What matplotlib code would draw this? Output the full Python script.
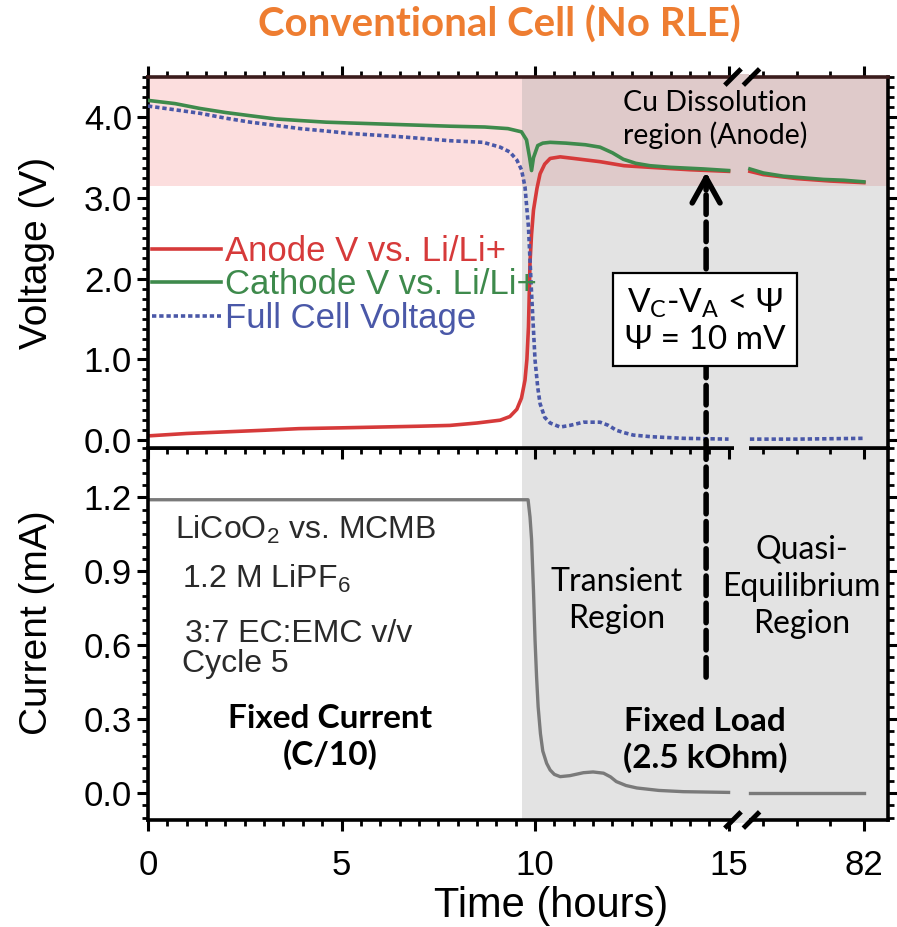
import numpy as np
import matplotlib
matplotlib.use("Agg")
import matplotlib.pyplot as plt
from matplotlib.lines import Line2D
from matplotlib.patches import ConnectionPatch, Polygon
from matplotlib.ticker import FixedLocator, MultipleLocator, FormatStrFormatter

# ---- values (time in hours, V and mA) ----
anode_t = [0, 1, 2, 3, 3.9, 5, 6, 7, 7.8, 8.5, 9.1, 9.35, 9.53, 9.65, 9.74, 9.79,
           9.83, 9.87, 9.91, 9.96, 10.05, 10.13, 10.25, 10.39, 10.65, 11.0, 11.68,
           12.3, 12.97, 14.0, 15.0]
anode_v = [0.05, 0.08, 0.10, 0.12, 0.14, 0.15, 0.16, 0.17, 0.18, 0.21, 0.245, 0.29,
           0.38, 0.52, 0.74, 1.0, 1.40, 2.2, 2.55, 2.85, 3.12, 3.30, 3.42, 3.49,
           3.51, 3.49, 3.45, 3.40, 3.38, 3.35, 3.33]
anode_late_t = [78.6, 79.0, 80.0, 81.0, 82.0]
anode_late_v = [3.33, 3.29, 3.24, 3.21, 3.19]

cathode_t = [0, 0.7, 1.34, 2.0, 2.64, 3.3, 3.93, 4.6, 5.22, 6.5, 7.8, 8.7, 9.3,
             9.65, 9.78, 9.86, 9.91, 9.96, 10.07, 10.2, 10.39, 10.8, 11.3, 11.68,
             12.0, 12.28, 12.6, 12.97, 13.5, 14.35, 15.0]
cathode_v = [4.21, 4.17, 4.11, 4.06, 4.02, 3.98, 3.96, 3.94, 3.93, 3.91, 3.89, 3.88,
             3.86, 3.82, 3.72, 3.50, 3.34, 3.50, 3.65, 3.68, 3.69, 3.68, 3.66, 3.63,
             3.56, 3.48, 3.43, 3.40, 3.38, 3.36, 3.34]
cathode_late_t = [78.6, 79.0, 79.6, 80.2, 80.8, 81.4, 82.0]
cathode_late_v = [3.36, 3.31, 3.27, 3.25, 3.23, 3.22, 3.20]

cell_t = [0, 0.6, 1.34, 2.0, 2.64, 3.3, 3.93, 4.6, 5.22, 6.5, 7.8, 8.66, 9.1, 9.35,
          9.53, 9.65, 9.74, 9.83, 9.91, 10.0, 10.07, 10.13, 10.25, 10.39, 10.65,
          10.9, 11.25, 11.68, 11.9, 12.1, 12.3, 12.54, 13.0, 13.83, 15.0]
cell_v = [4.14, 4.10, 4.05, 3.99, 3.94, 3.90, 3.86, 3.83, 3.80, 3.76, 3.71, 3.69,
          3.63, 3.57, 3.47, 3.35, 3.14, 2.64, 1.82, 0.99, 0.65, 0.45, 0.28, 0.21,
          0.16, 0.18, 0.22, 0.22, 0.18, 0.12, 0.09, 0.06, 0.04, 0.02, 0.01]
cell_late_t = [78.6, 80.0, 82.0]
cell_late_v = [0.01, 0.01, 0.02]

current_t = [0, 9.82, 9.87, 9.91, 9.96, 10.0, 10.04, 10.08, 10.14, 10.2, 10.3, 10.39,
             10.5, 10.65, 10.9, 11.25, 11.5, 11.77, 11.95, 12.1, 12.35, 12.63, 13.2,
             13.83, 15.0]
current_i = [1.19, 1.19, 1.12, 1.03, 0.82, 0.62, 0.47, 0.35, 0.24, 0.17, 0.12, 0.093,
             0.075, 0.066, 0.07, 0.082, 0.085, 0.08, 0.065, 0.046, 0.03, 0.02, 0.01,
             0.005, 0.002]
current_late_t = [78.6, 82.0]
current_late_i = [0.0, 0.0]

legend_labels = ["Anode V vs. Li/Li+", "Cathode V vs. Li/Li+", "Full Cell Voltage"]
x_major = [0, 5, 10, 15, 82]
x_minor_late = [79, 80, 81]

TRANSIENT_START = 9.66   # start of the fixed-load (grey) region
CU_LIMIT = 3.15          # lower edge of the Cu dissolution band
ARROW_T = 14.42

# broken time axis: 0-15 h linear, then a short jump to the last hours
BREAK_LO, BREAK_HI = 15.0, 78.5
GAP = 0.465
LATE_SCALE = 0.866
X_END = 82.72


def fwd(t):
    t = np.asarray(t, dtype=float)
    mid = BREAK_LO + (t - BREAK_LO) * GAP / (BREAK_HI - BREAK_LO)
    late = BREAK_LO + GAP + (t - BREAK_HI) * LATE_SCALE
    return np.where(t <= BREAK_LO, t, np.where(t < BREAK_HI, mid, late))


def inv(u):
    u = np.asarray(u, dtype=float)
    mid = BREAK_LO + (u - BREAK_LO) * (BREAK_HI - BREAK_LO) / GAP
    late = BREAK_HI + (u - BREAK_LO - GAP) / LATE_SCALE
    return np.where(u <= BREAK_LO, u, np.where(u < BREAK_LO + GAP, mid, late))


RED, GREEN, BLUE = "#d63a3a", "#3e8a4c", "#4a58a8"
CURRENT_GREY = "#7a7a7a"
PINK, PINK_GREY, SHADE = "#fcdede", "#dfcaca", "#e3e3e3"
ORANGE = "#ee7d31"
CAL = ["Lato", "DejaVu Sans"]

plt.rcParams["font.family"] = ["Liberation Sans", "DejaVu Sans"]
plt.rcParams["mathtext.fontset"] = "custom"
plt.rcParams["mathtext.rm"] = "Liberation Sans"

fig = plt.figure(figsize=(8.97, 9.27), dpi=100)
W, H = 897.0, 927.0
ax_top = fig.add_axes([148 / W, 1 - 448 / H, 740 / W, 371 / H])
ax_bot = fig.add_axes([148 / W, 1 - 820 / H, 740 / W, 372 / H], sharex=ax_top)
ax_top.set_zorder(3)
ax_top.set_xscale("function", functions=(fwd, inv))
ax_top.set_xlim(0, X_END)
ax_top.set_ylim(-0.1, 4.5)
ax_bot.set_ylim(-0.11, 1.4)

# ---- background regions ----
for ax in (ax_top, ax_bot):
    ax.axvspan(TRANSIENT_START, X_END, color=SHADE, lw=0, zorder=0)
ax_top.fill_between([0, TRANSIENT_START], CU_LIMIT, 4.5, color=PINK, lw=0, zorder=0.5)
ax_top.fill_between([TRANSIENT_START, X_END], CU_LIMIT, 4.5, color=PINK_GREY, lw=0, zorder=0.5)

# ---- curves ----
for t, v in ((anode_t, anode_v), (anode_late_t, anode_late_v)):
    ax_top.plot(t, v, color=RED, lw=2.6, zorder=2)
for t, v in ((cathode_t, cathode_v), (cathode_late_t, cathode_late_v)):
    ax_top.plot(t, v, color=GREEN, lw=2.6, zorder=3)
for t, v in ((cell_t, cell_v), (cell_late_t, cell_late_v)):
    ax_top.plot(t, v, color=BLUE, lw=2.6, ls=(0, (1.2, 0.8)), zorder=4)
for t, i in ((current_t, current_i), (current_late_t, current_late_i)):
    ax_bot.plot(t, i, color=CURRENT_GREY, lw=2.4, zorder=2)

handles = [Line2D([], [], color=RED, lw=2.6),
           Line2D([], [], color=GREEN, lw=2.6),
           Line2D([], [], color=BLUE, lw=2.6, ls=(0, (1.2, 0.8)))]
ax_top.legend(handles, legend_labels, loc="upper left", bbox_to_anchor=(0.005, 0.575),
              frameon=False, fontsize=25, handlelength=2.0, handletextpad=0.1,
              labelspacing=0.02, borderpad=0, borderaxespad=0, labelcolor="linecolor")

# ---- axes styling ----
minor_x = [m for m in np.arange(0.5, 15, 0.5) if m % 5 != 0] + x_minor_late
for ax in (ax_top, ax_bot):
    ax.xaxis.set_major_locator(FixedLocator(x_major))
    ax.xaxis.set_minor_locator(FixedLocator(minor_x))
    ax.xaxis.set_major_formatter(FormatStrFormatter("%d"))
    ax.yaxis.set_major_formatter(FormatStrFormatter("%.1f"))
    ax.tick_params(which="major", length=8, width=2.2, labelsize=25)
    ax.tick_params(which="minor", length=4, width=2)
    ax.tick_params(axis="y", which="both", left=True, right=True, direction="out")
    for s in ax.spines.values():
        s.set_linewidth(2.6)
ax_top.spines["top"].set_color("#3b1c1c")
ax_top.yaxis.set_major_locator(MultipleLocator(1.0))
ax_top.yaxis.set_minor_locator(MultipleLocator(0.125))
ax_bot.yaxis.set_major_locator(MultipleLocator(0.3))
ax_bot.yaxis.set_minor_locator(MultipleLocator(0.05))
ax_top.tick_params(axis="x", which="both", top=True, bottom=True, labelbottom=False,
                   direction="out")
ax_bot.tick_params(axis="x", which="both", top=False, bottom=True, direction="out", pad=13)

ax_top.set_ylabel("Voltage (V)", fontsize=28)
ax_bot.set_ylabel("Current (mA)", fontsize=28)
ax_top.yaxis.set_label_coords(-0.125, 0.525)
ax_bot.yaxis.set_label_coords(-0.125, 0.53)
ax_bot.set_xlabel("Time (hours)", fontsize=30)
ax_bot.xaxis.set_label_coords(0.545, -0.178)


# ---- axis break marks ----
def break_marks(ax, y, cover):
    ax.add_patch(Polygon([[0.792, y - 0.008], [0.812, y - 0.008], [0.812, y + 0.008], [0.792, y + 0.008]],
                         closed=True, transform=ax.transAxes, color=cover, lw=0,
                         clip_on=False, zorder=5))
    for xc in (0.7905, 0.8155):
        ax.plot([xc - 0.011, xc + 0.011], [y - 0.022, y + 0.022], color="black", lw=3.5,
                transform=ax.transAxes, clip_on=False, zorder=6, solid_capstyle="butt")


break_marks(ax_top, 1.0, PINK_GREY)
break_marks(ax_bot, 0.0, SHADE)
ax_top.add_patch(Polygon([[0.792, -0.008], [0.812, -0.008], [0.812, 0.008], [0.792, 0.008]],
                         closed=True, transform=ax_top.transAxes, color=SHADE, lw=0,
                         clip_on=False, zorder=5))

# ---- annotations ----
fig.text(499 / W, 1 - 25 / H, "Conventional Cell (No RLE)", ha="center", va="center",
         fontsize=29, fontweight="bold", color=ORANGE, family=CAL)
ax_top.text(14.65, 3.97, "Cu Dissolution\nregion (Anode)", ha="center", va="center",
            fontsize=20.5, family=CAL, linespacing=1.25, zorder=5)
ax_bot.text(12.1, 0.78, "Transient\nRegion", ha="center", va="center", fontsize=23,
            family=CAL, linespacing=1.3)
ax_bot.text(80.14, 0.835, "Quasi-\nEquilibrium\nRegion", ha="center", va="center",
            fontsize=23, family=CAL, linespacing=1.3)
ax_bot.text(14.39, 0.215, "Fixed Load\n(2.5 kOhm)", ha="center", va="center",
            fontsize=24, fontweight="bold", family=CAL, linespacing=1.25)
ax_bot.text(4.7, 0.227, "Fixed Current\n(C/10)", ha="center", va="center",
            fontsize=24, fontweight="bold", family=CAL, linespacing=1.25)

info = [(0.70, 1.034, r"LiCoO$_\mathregular{2}$ vs. MCMB"),
        (0.87, 0.835, r"1.2 M LiPF$_\mathregular{6}$"),
        (0.96, 0.613, "3:7 EC:EMC v/v"),
        (0.87, 0.49, "Cycle 5")]
for x, y, s in info:
    ax_bot.text(x, y, s, ha="left", va="baseline", fontsize=23, color="#2a2a2a")

# dashed arrow from the current panel up into the Cu dissolution band
con = ConnectionPatch(xyA=(ARROW_T, 0.47), coordsA=ax_bot.transData,
                      xyB=(ARROW_T, 3.25), coordsB=ax_top.transData,
                      color="black", lw=4, linestyle=(0, (3.5, 1.4)), zorder=5)
fig.add_artist(con)
ax_top.annotate("", xy=(ARROW_T, 3.32), xytext=(ARROW_T, 3.1),
                arrowprops=dict(arrowstyle="->,head_length=0.9,head_width=0.5", lw=4,
                                color="black", mutation_scale=20, shrinkA=0, shrinkB=0),
                zorder=6)
box = fig.text(0, 0, "V$_\\mathregular{C}$-V$_\\mathregular{A}$ < \u03a8\n\u03a8 = 10 mV",
               transform=ax_top.transData, ha="center", va="center", fontsize=24,
               family=CAL, linespacing=1.2, zorder=7,
               bbox=dict(boxstyle="square,pad=0.35", fc="white", ec="black", lw=1.6))
box.set_position((14.39, 1.48))

fig.savefig("out.png", dpi=100)
